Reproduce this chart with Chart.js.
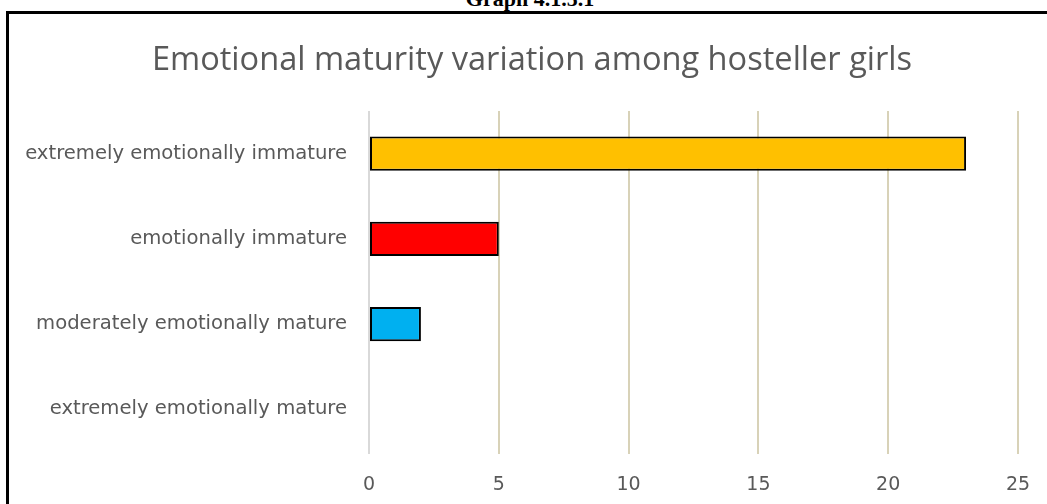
<!DOCTYPE html>
<html>
<head>
<meta charset="utf-8">
<script src="https://cdn.jsdelivr.net/npm/chart.js@4/dist/chart.umd.min.js"></script>
<style>
  html, body { margin: 0; padding: 0; background: #fff; overflow: hidden; }
  #caption {
    position: absolute; left: 0; top: -14px; width: 1060px; text-align: center;
    font: bold 22px "Liberation Serif", "Times New Roman", serif; color: #000;
  }
  #frame {
    position: absolute; left: 6px; top: 11px; width: 1041px; height: 493px;
    border-top: 3px solid #000; border-left: 3px solid #000; box-sizing: border-box;
  }
  #wrap { position: absolute; left: 0; top: 0; width: 1038px; height: 490px; }
</style>
</head>
<body>
<div id="caption">Graph 4.1.5.1</div>
<div id="frame"><div id="wrap"><canvas id="chart"></canvas></div></div>
<script>
const chartTitle = "Emotional maturity variation among hosteller girls";
const categories = [
  "extremely emotionally immature",
  "emotionally immature",
  "moderately emotionally mature",
  "extremely emotionally mature"
];
const girlsCount = [23, 5, 2, 0];
const barColors = ["#ffc000", "#ff0000", "#00b0f0", "#70ad47"];
const xTicks = [0, 5, 10, 15, 20, 25];

const labelFont = { family: "'DejaVu Sans', sans-serif", size: 19.6 };

// the Excel title sits a little right of the canvas centre, so draw it ourselves
const offsetTitle = {
  id: "offsetTitle",
  afterDraw(chart) {
    const ctx = chart.ctx;
    ctx.save();
    ctx.fillStyle = "#595959";
    ctx.font = "32.6px 'Open Sans', sans-serif";
    ctx.textAlign = "center";
    ctx.textBaseline = "middle";
    ctx.fillText(chartTitle, 523, 47);
    ctx.restore();
  }
};

new Chart(document.getElementById("chart"), {
  type: "bar",
  data: {
    labels: categories,
    datasets: [{
      data: girlsCount,
      backgroundColor: barColors,
      borderColor: "#000",
      borderWidth: 2,
      borderSkipped: false,
      barPercentage: 0.4,
      categoryPercentage: 1
    }]
  },
  options: {
    indexAxis: "y",
    responsive: true,
    maintainAspectRatio: false,
    animation: false,
    layout: { padding: { left: 10, right: 0, top: 97, bottom: 0 } },
    plugins: {
      legend: { display: false },
      tooltip: { enabled: false },
      title: { display: false }
    },
    scales: {
      x: {
        min: 0,
        max: 25,
        afterBuildTicks: (scale) => { scale.ticks = xTicks.map((v) => ({ value: v })); },
        grid: {
          color: (ctx) => (ctx.tick && ctx.tick.value === 0 ? "#d9d9d9" : "#d8d2b8"),
          lineWidth: 2,
          drawTicks: true,
          tickLength: 2
        },
        border: { display: false },
        ticks: { color: "#595959", font: { family: "'DejaVu Sans', sans-serif", size: 19 }, padding: 20 },
        afterFit: (scale) => {
          scale.height = 52;
          scale.paddingLeft = 0;
          scale.paddingRight = 29;
        }
      },
      y: {
        grid: { display: false },
        border: { display: false },
        ticks: { color: "#595959", font: labelFont, padding: 14 },
        afterFit: (scale) => { scale.width = 350; }
      }
    }
  },
  plugins: [offsetTitle]
});
</script>
</body>
</html>
